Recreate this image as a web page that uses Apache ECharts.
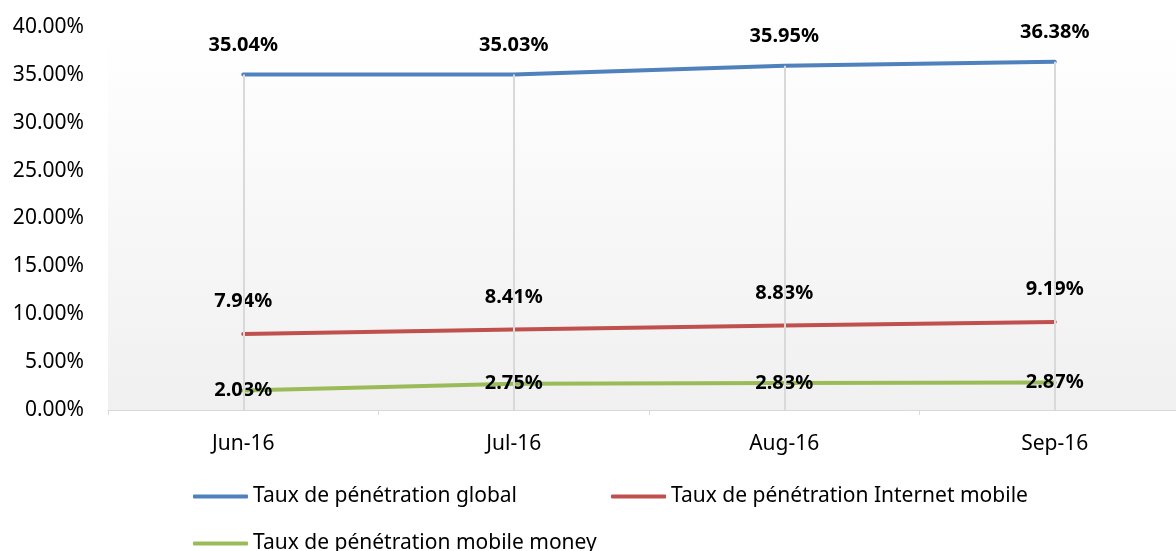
<!DOCTYPE html>
<html>
<head>
<meta charset="utf-8">
<script src="https://cdn.jsdelivr.net/npm/echarts@6/dist/echarts.min.js"></script>
<style>
  html, body { margin: 0; padding: 0; background: #fff; }
  #chart { width: 1176px; height: 551px; }
</style>
</head>
<body>
<div id="chart"></div>
<script>
// data
var months = ['Jun-16', 'Jul-16', 'Aug-16', 'Sep-16'];
var tauxGlobal = [35.04, 35.03, 35.95, 36.38];
var tauxInternet = [7.94, 8.41, 8.83, 9.19];
var tauxMoney = [2.03, 2.75, 2.83, 2.87];
var seriesNames = [
    'Taux de pénétration global',
    'Taux de pénétration Internet mobile',
    'Taux de pénétration mobile money'
];
var colors = ['#4f81bd', '#c0504d', '#9bbb59'];

var font = 'Noto Sans, sans-serif';

// drop lines from the top series down to the axis
var dropLines = months.map(function (m, i) {
    return [{ xAxis: m, yAxis: 0 }, { xAxis: m, yAxis: tauxGlobal[i] }];
});

function pct(p) { return p.value.toFixed(2) + '%'; }

// line series with invisible symbols so the labels are kept
function lineSeries(name, data, color, label) {
    return {
        name: name,
        type: 'line',
        data: data,
        symbol: 'circle',
        symbolSize: 1,
        showSymbol: true,
        color: color,
        itemStyle: { color: 'rgba(0,0,0,0)' },
        lineStyle: { width: 4, color: color, cap: 'round' },
        label: Object.assign({
            show: true,
            fontWeight: 'bold', fontSize: 20, color: '#000', fontFamily: font,
            formatter: pct
        }, label),
        z: 3
    };
}

var s1 = lineSeries(seriesNames[0], tauxGlobal, colors[0], { position: 'top', distance: 19 });
s1.markLine = {
    silent: true, symbol: 'none', label: { show: false },
    lineStyle: { color: '#d9d9d9', width: 2, type: 'solid' },
    data: dropLines
};
var s2 = lineSeries(seriesNames[1], tauxInternet, colors[1], { position: 'top', distance: 22 });
var s3 = lineSeries(seriesNames[2], tauxMoney, colors[2], { position: 'inside' });

var legendText = { fontFamily: font, fontSize: 21, color: '#000' };
function legendItems(from, to) {
    return seriesNames.slice(from, to).map(function (n, i) {
        return { name: n, itemStyle: { color: colors[from + i] } };
    });
}

var chart = echarts.init(document.getElementById('chart'));
var option = {
    animation: false,
    textStyle: { fontFamily: font },
    grid: {
        left: 108, top: 27, bottom: 141, width: 1082,
        outerBoundsMode: 'none',
        containLabel: false,
        show: true,
        borderWidth: 0,
        backgroundColor: {
            type: 'linear', x: 0, y: 0, x2: 0, y2: 1,
            colorStops: [{ offset: 0, color: '#ffffff' }, { offset: 1, color: '#f0f0f0' }]
        }
    },
    legend: [{
        data: legendItems(0, 2),
        left: 188, top: 481,
        itemWidth: 55, itemHeight: 4, itemGap: 94,
        icon: 'roundRect',
        textStyle: legendText
    }, {
        data: legendItems(2, 3),
        left: 188, top: 528,
        itemWidth: 55, itemHeight: 4,
        icon: 'roundRect',
        textStyle: legendText
    }],
    xAxis: {
        type: 'category',
        data: months,
        boundaryGap: true,
        axisLine: { lineStyle: { color: '#d9d9d9', width: 1 } },
        axisTick: { show: true, length: 5, lineStyle: { color: '#d9d9d9' } },
        axisLabel: { color: '#000', fontSize: 21, margin: 24, fontFamily: font },
        splitLine: { show: false }
    },
    yAxis: {
        type: 'value',
        min: 0, max: 40, interval: 5,
        axisLine: { show: false },
        axisTick: { show: false },
        axisLabel: {
            color: '#000', fontSize: 21, margin: 24, fontFamily: font,
            formatter: function (v) { return v.toFixed(2) + '%'; }
        },
        splitLine: { show: false }
    },
    series: [s1, s2, s3]
};
chart.setOption(option);
</script>
</body>
</html>
